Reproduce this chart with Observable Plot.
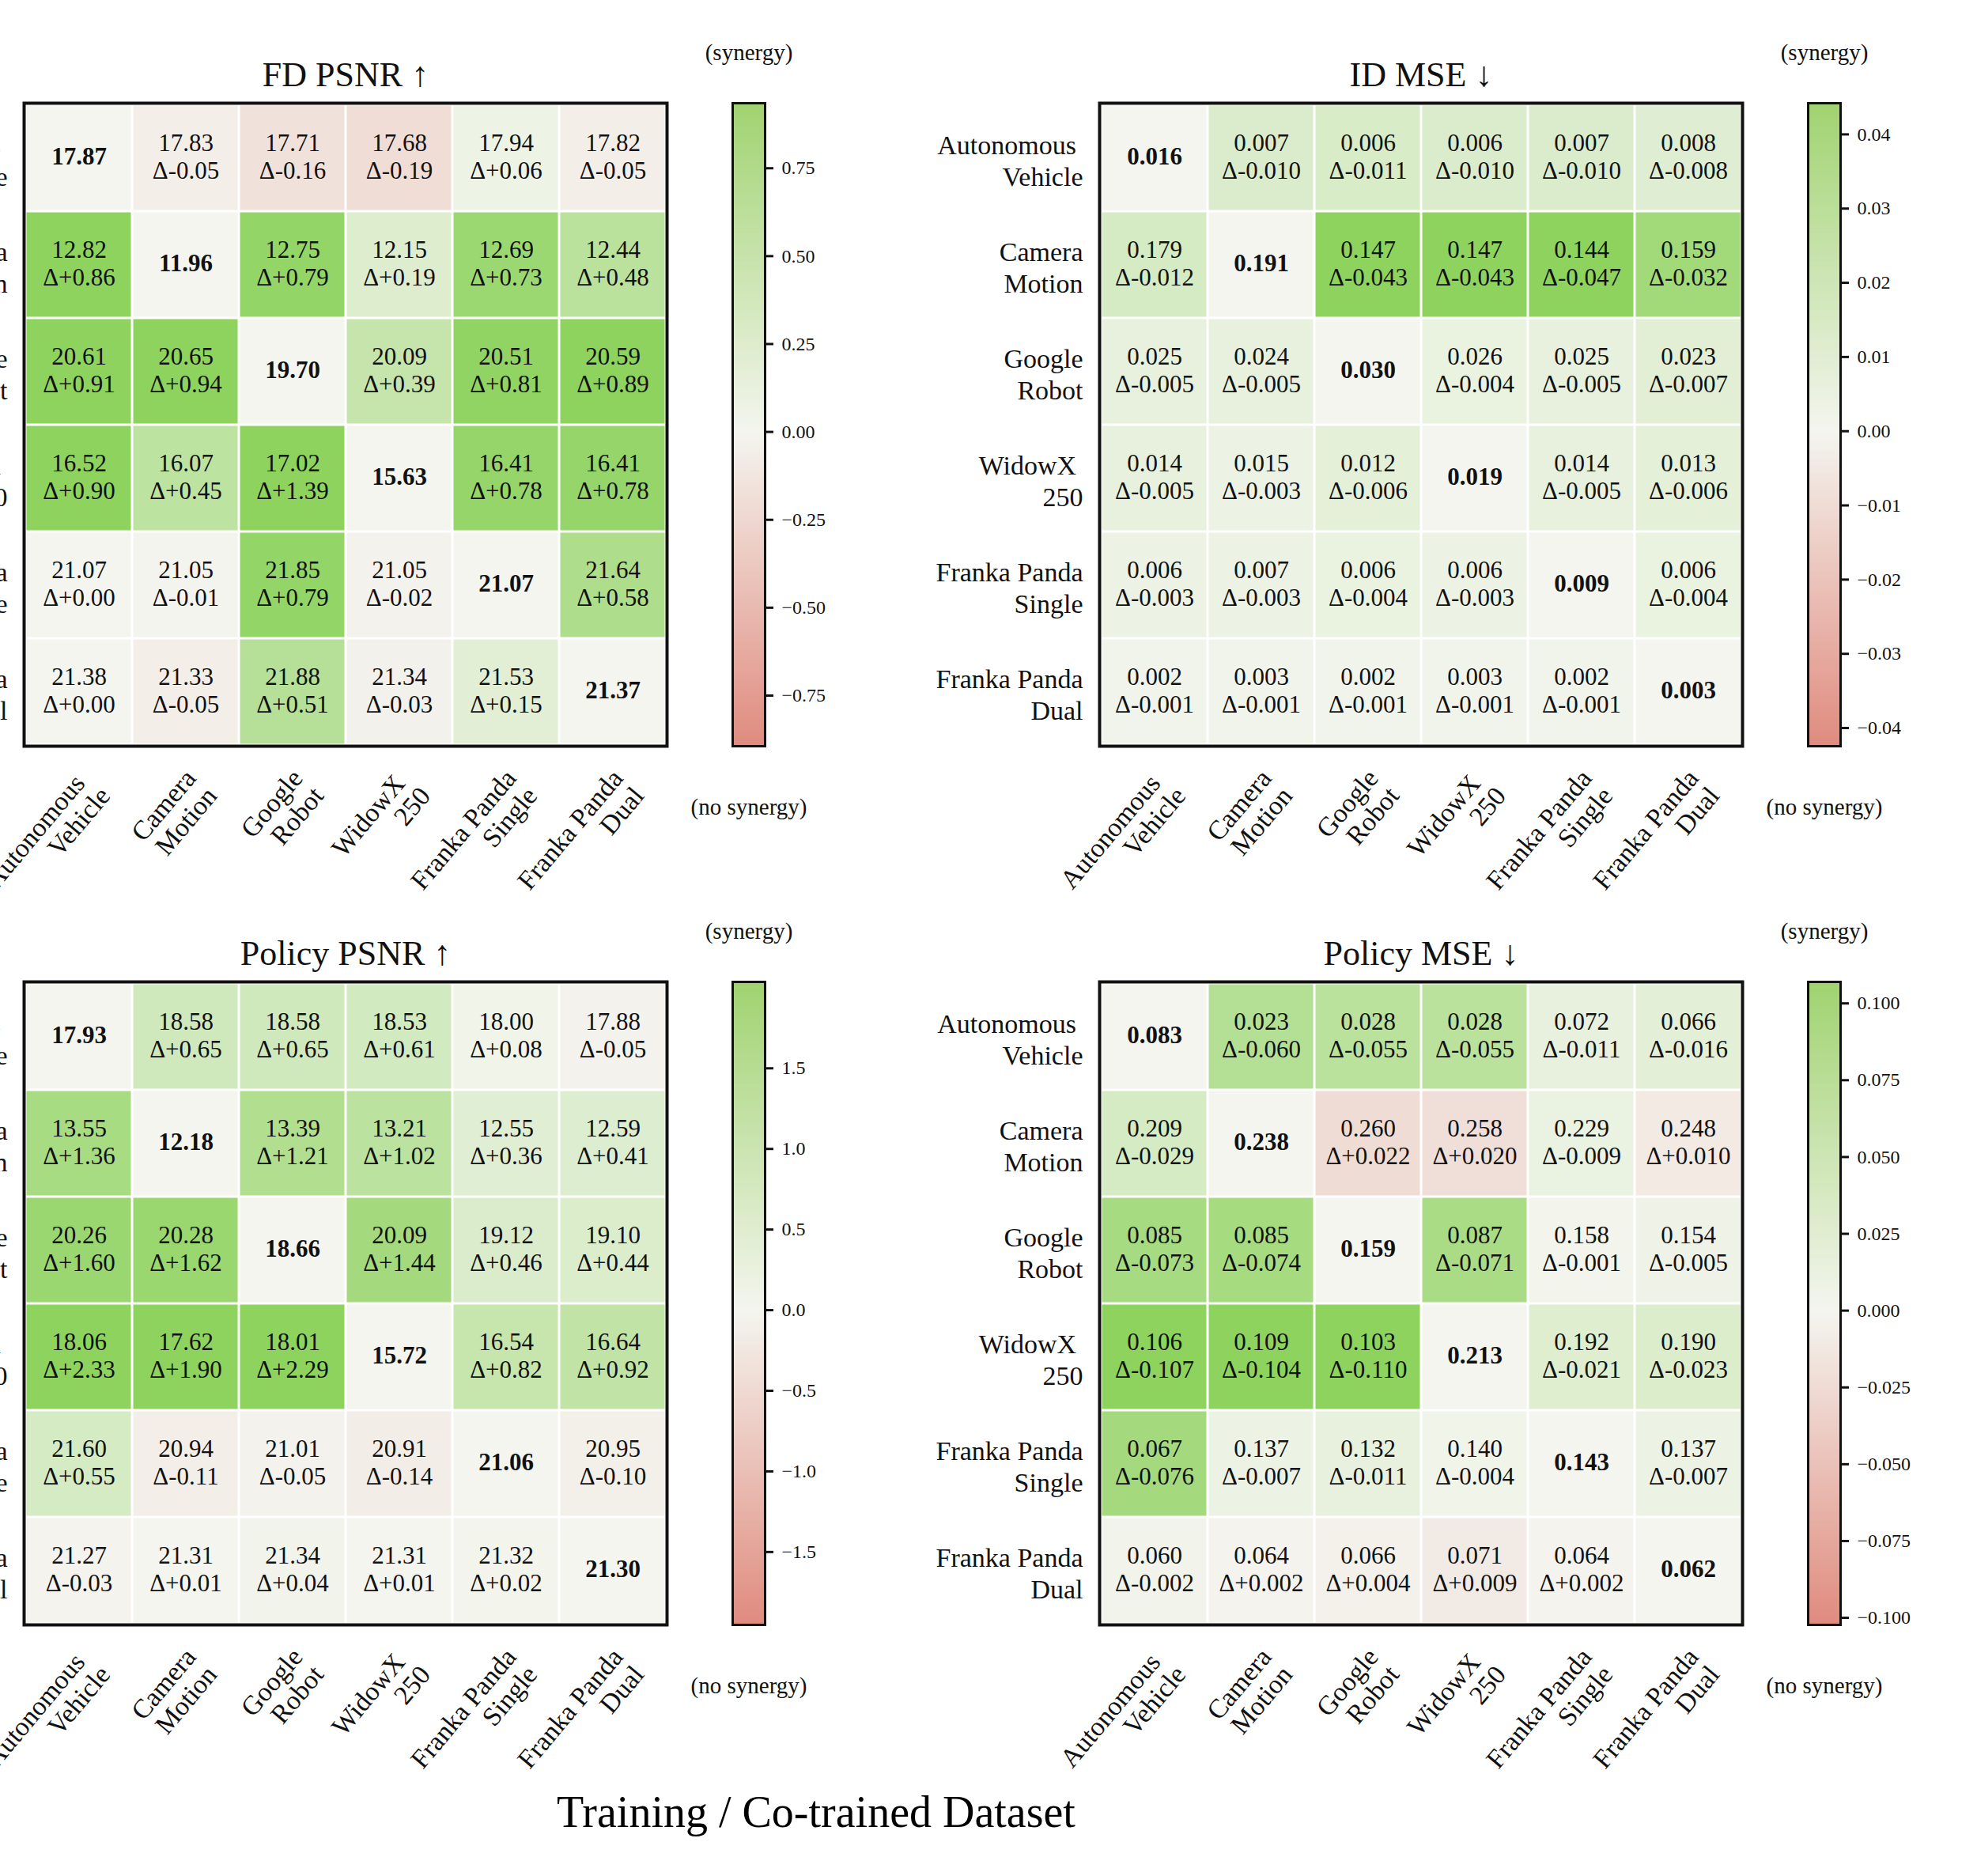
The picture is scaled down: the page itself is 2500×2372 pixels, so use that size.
<!DOCTYPE html>
<html><head><meta charset="utf-8">
<script src="https://cdn.jsdelivr.net/npm/d3@7"></script>
<script src="https://cdn.jsdelivr.net/npm/@observablehq/plot@0.6"></script>
<style>
html,body{margin:0;padding:0;background:#fff;}
#root{position:relative;width:2500px;height:2372px;overflow:hidden;background:#fff;font-family:"Liberation Serif",serif;}
#root svg{position:absolute;overflow:visible;}
#xlabel{position:absolute;left:0;width:2064px;top:2263px;text-align:center;font-size:56px;line-height:56px;font-family:"Liberation Serif",serif;color:#000;}
</style></head><body><div id="root"></div>
<script>
// ---------- data ----------
const datasets = ["Autonomous Vehicle","Camera Motion","Google Robot","WidowX 250","Franka Panda Single","Franka Panda Dual"];
const datasetLabels = ["Autonomous\u00a0\nVehicle","Camera\nMotion","Google\nRobot","WidowX\u00a0\n250","Franka Panda\nSingle","Franka Panda\nDual"];
const titles = ["FD PSNR ↑","ID MSE ↓","Policy PSNR ↑","Policy MSE ↓"];

const fdPsnrValues = [
  [17.87,17.83,17.71,17.68,17.94,17.82],
  [12.82,11.96,12.75,12.15,12.69,12.44],
  [20.61,20.65,19.70,20.09,20.51,20.59],
  [16.52,16.07,17.02,15.63,16.41,16.41],
  [21.07,21.05,21.85,21.05,21.07,21.64],
  [21.38,21.33,21.88,21.34,21.53,21.37]];
const fdPsnrDeltas = [
  [null,-0.05,-0.16,-0.19,0.06,-0.05],
  [0.86,null,0.79,0.19,0.73,0.48],
  [0.91,0.94,null,0.39,0.81,0.89],
  [0.90,0.45,1.39,null,0.78,0.78],
  [0.00,-0.01,0.79,-0.02,null,0.58],
  [0.00,-0.05,0.51,-0.03,0.15,null]];

const idMseValues = [
  [0.016,0.007,0.006,0.006,0.007,0.008],
  [0.179,0.191,0.147,0.147,0.144,0.159],
  [0.025,0.024,0.030,0.026,0.025,0.023],
  [0.014,0.015,0.012,0.019,0.014,0.013],
  [0.006,0.007,0.006,0.006,0.009,0.006],
  [0.002,0.003,0.002,0.003,0.002,0.003]];
const idMseDeltas = [
  [null,-0.010,-0.011,-0.010,-0.010,-0.008],
  [-0.012,null,-0.043,-0.043,-0.047,-0.032],
  [-0.005,-0.005,null,-0.004,-0.005,-0.007],
  [-0.005,-0.003,-0.006,null,-0.005,-0.006],
  [-0.003,-0.003,-0.004,-0.003,null,-0.004],
  [-0.001,-0.001,-0.001,-0.001,-0.001,null]];

const policyPsnrValues = [
  [17.93,18.58,18.58,18.53,18.00,17.88],
  [13.55,12.18,13.39,13.21,12.55,12.59],
  [20.26,20.28,18.66,20.09,19.12,19.10],
  [18.06,17.62,18.01,15.72,16.54,16.64],
  [21.60,20.94,21.01,20.91,21.06,20.95],
  [21.27,21.31,21.34,21.31,21.32,21.30]];
const policyPsnrDeltas = [
  [null,0.65,0.65,0.61,0.08,-0.05],
  [1.36,null,1.21,1.02,0.36,0.41],
  [1.60,1.62,null,1.44,0.46,0.44],
  [2.33,1.90,2.29,null,0.82,0.92],
  [0.55,-0.11,-0.05,-0.14,null,-0.10],
  [-0.03,0.01,0.04,0.01,0.02,null]];

const policyMseValues = [
  [0.083,0.023,0.028,0.028,0.072,0.066],
  [0.209,0.238,0.260,0.258,0.229,0.248],
  [0.085,0.085,0.159,0.087,0.158,0.154],
  [0.106,0.109,0.103,0.213,0.192,0.190],
  [0.067,0.137,0.132,0.140,0.143,0.137],
  [0.060,0.064,0.066,0.071,0.064,0.062]];
const policyMseDeltas = [
  [null,-0.060,-0.055,-0.055,-0.011,-0.016],
  [-0.029,null,0.022,0.020,-0.009,0.010],
  [-0.073,-0.074,null,-0.071,-0.001,-0.005],
  [-0.107,-0.104,-0.110,null,-0.021,-0.023],
  [-0.076,-0.007,-0.011,-0.004,null,-0.007],
  [-0.002,0.002,0.004,0.009,0.002,null]];

// colorbar extents (value at bar bottom / top) and tick values
const fdPsnrBar = [-0.894, 0.935];
const idMseBar = [-0.04245, 0.0442];
const policyPsnrBar = [-1.952, 2.036];
const policyMseBar = [-0.1023, 0.107];
const fdPsnrTicks = [-0.75,-0.5,-0.25,0,0.25,0.5,0.75];
const idMseTicks = [-0.04,-0.03,-0.02,-0.01,0,0.01,0.02,0.03,0.04];
const policyPsnrTicks = [-1.5,-1,-0.5,0,0.5,1,1.5];
const policyMseTicks = [-0.1,-0.075,-0.05,-0.025,0,0.025,0.05,0.075,0.1];

// ---------- styling / layout ----------
const RED = "#e08b7f", MID = "#f4f5ef", GREEN = "#8ed35e", GREEN_CB = "#a0d370";
const FONT = "'Liberation Serif', serif";
const HM = 813, ML = 300, MT = 130, MR = 10, MB = 250;
const CB_W = 41, CB_ML = 80, CB_MR = 140, CB_MB = 120;

const panels = [
  {title: titles[0], values: fdPsnrValues, deltas: fdPsnrDeltas, higher: true, digits: 2, bar: fdPsnrBar, ticks: fdPsnrTicks, fmt: ".2f", left: 30, top: 130, cbLeft: 926},
  {title: titles[1], values: idMseValues, deltas: idMseDeltas, higher: false, digits: 3, bar: idMseBar, ticks: idMseTicks, fmt: ".2f", left: 1390, top: 130, cbLeft: 2286},
  {title: titles[2], values: policyPsnrValues, deltas: policyPsnrDeltas, higher: true, digits: 2, bar: policyPsnrBar, ticks: policyPsnrTicks, fmt: ".1f", left: 30, top: 1241, cbLeft: 926},
  {title: titles[3], values: policyMseValues, deltas: policyMseDeltas, higher: false, digits: 3, bar: policyMseBar, ticks: policyMseTicks, fmt: ".3f", left: 1390, top: 1241, cbLeft: 2286}
];

const root = document.getElementById("root");
const labelOf = new Map(datasets.map((d, i) => [d, datasetLabels[i]]));

function place(svg, left, top) {
  svg.style.left = left + "px";
  svg.style.top = top + "px";
  root.appendChild(svg);
}

for (const p of panels) {
  const cells = [];
  p.values.forEach((row, i) => row.forEach((v, j) => {
    const d = p.deltas[i][j];
    const diag = d === null;
    const txt = diag ? v.toFixed(p.digits)
      : v.toFixed(p.digits) + "\nΔ" + (d >= 0 ? "+" : "-") + Math.abs(d).toFixed(p.digits);
    cells.push({row: datasets[i], col: datasets[j], diag, txt, syn: diag ? 0 : (p.higher ? d : -d)});
  }));
  const m = p.bar[1] * 0.9;
  const heat = Plot.plot({
    width: ML + HM + MR, height: MT + HM + MB,
    marginLeft: ML, marginRight: MR, marginTop: MT, marginBottom: MB,
    style: {background: "transparent", overflow: "visible", fontFamily: FONT, maxWidth: "none"},
    x: {type: "band", domain: datasets, padding: 0, axis: null},
    y: {type: "band", domain: datasets, padding: 0, axis: null},
    color: {type: "linear", domain: [-m, 0, m], range: [RED, MID, GREEN], clamp: true, interpolate: "rgb"},
    marks: [
      Plot.cell(cells, {x: "col", y: "row", fill: "syn", inset: 1.5}),
      Plot.text(cells.filter(d => !d.diag), {x: "col", y: "row", text: "txt", fontSize: 31, lineHeight: 1.13, dy: -3, fill: "#111"}),
      Plot.text(cells.filter(d => d.diag), {x: "col", y: "row", text: "txt", fontSize: 31, fontWeight: "bold", dy: -2, fill: "#111"}),
      Plot.frame({stroke: "#111", strokeWidth: 4}),
      Plot.text(datasets, {y: d => d, text: d => labelOf.get(d), frameAnchor: "left", textAnchor: "end", lineAnchor: "middle", dx: -21, dy: 2.5, fontSize: 34, lineHeight: 1.15, fill: "#111"}),
      Plot.text(datasets, {x: d => d, text: d => labelOf.get(d), frameAnchor: "bottom", textAnchor: "end", lineAnchor: "top", rotate: -50, dx: -4.5, dy: 25.5, fontSize: 34, lineHeight: 1.02, fill: "#111"}),
      Plot.text([p.title], {text: d => d, frameAnchor: "top", lineAnchor: "bottom", dy: -22, fontSize: 44, fill: "#111"})
    ]
  });
  place(heat, p.left - ML, p.top - MT);

  const [lo, hi] = p.bar;
  const N = 300;
  const steps = d3.range(N).map(k => ({y1: lo + (hi - lo) * k / N, y2: lo + (hi - lo) * Math.min(1, (k + 1.6) / N), v: lo + (hi - lo) * (k + 0.5) / N}));
  const fmt = d3.format(p.fmt);
  const bar = Plot.plot({
    width: CB_ML + CB_W + CB_MR, height: MT + HM + CB_MB,
    marginLeft: CB_ML, marginRight: CB_MR, marginTop: MT, marginBottom: CB_MB,
    style: {background: "transparent", overflow: "visible", fontFamily: FONT, maxWidth: "none"},
    y: {domain: [lo, hi]},
    color: {type: "linear", domain: [lo, 0, hi], range: [RED, MID, GREEN_CB], interpolate: "rgb"},
    marks: [
      Plot.rectY(steps, {y1: "y1", y2: "y2", fill: "v"}),
      Plot.frame({stroke: "#111", strokeWidth: 3}),
      Plot.axisY({ticks: p.ticks, anchor: "right", tickSize: 10, tickPadding: 11, tickFormat: fmt, fontSize: 24, strokeWidth: 3, label: null, color: "#111"}),
      Plot.text(["(synergy)"], {text: d => d, frameAnchor: "top", lineAnchor: "middle", dy: -64, fontSize: 29, fill: "#111"}),
      Plot.text(["(no synergy)"], {text: d => d, frameAnchor: "bottom", lineAnchor: "middle", dy: 77, fontSize: 29, fill: "#111"})
    ]
  });
  place(bar, p.cbLeft - CB_ML, p.top - MT);
}

const xl = document.createElement("div");
xl.id = "xlabel";
xl.textContent = "Training / Co-trained Dataset";
root.appendChild(xl);
</script></body></html>
